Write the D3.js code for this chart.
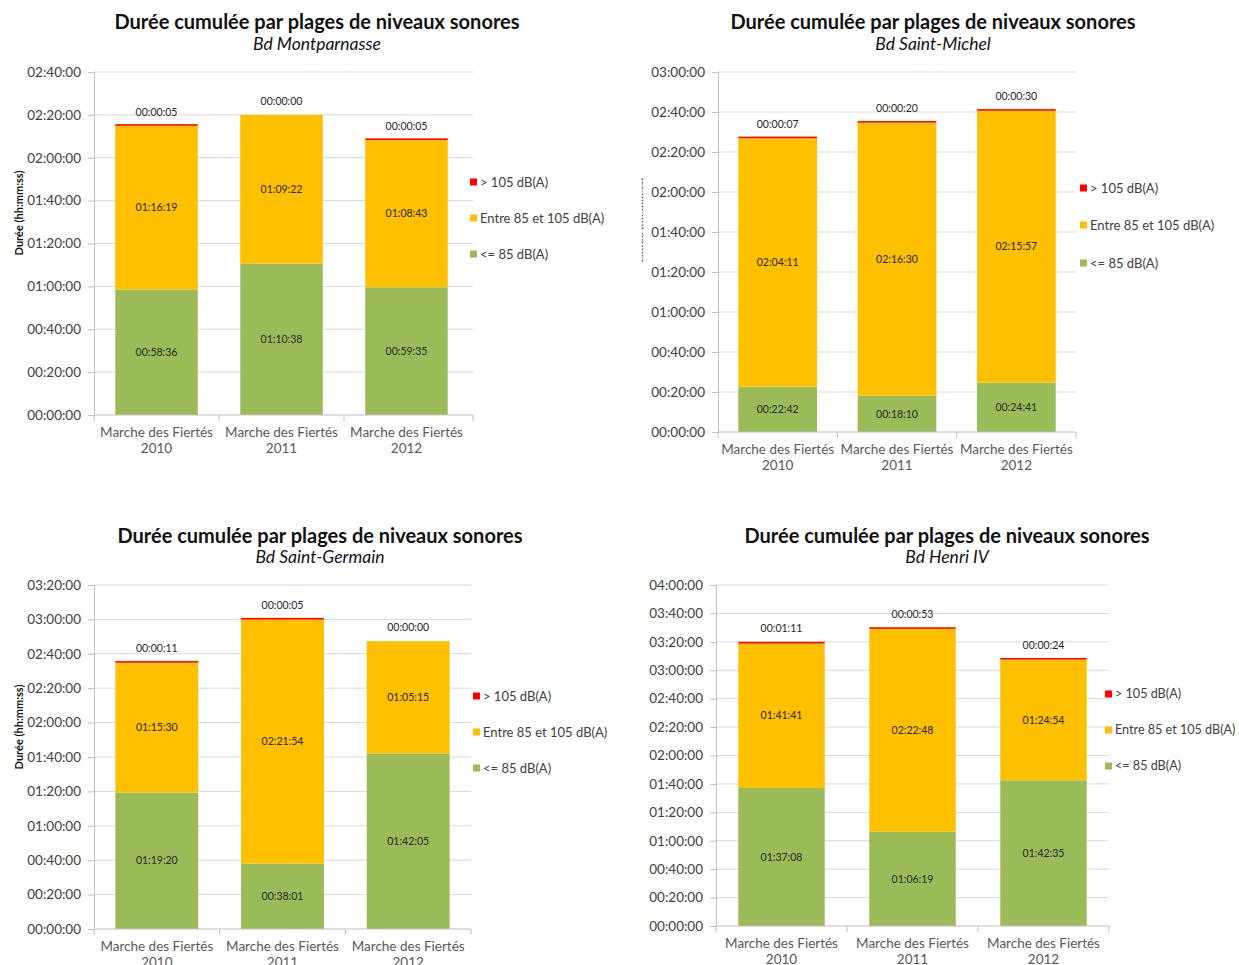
<!DOCTYPE html>
<html>
<head>
<meta charset="utf-8">
<script src="https://cdn.jsdelivr.net/npm/d3@7"></script>
<style>
  html, body { margin: 0; padding: 0; background: #ffffff; }
  svg { display: block; }
  text { font-family: "Lato", "Open Sans", sans-serif; }
</style>
</head>
<body>
<svg id="chart" width="1239" height="965"></svg>
<script>
// ---------- DATA ----------
const categories = ["Marche des Fiertés 2010", "Marche des Fiertés 2011", "Marche des Fiertés 2012"];
const seriesNames = ["<= 85 dB(A)", "Entre 85 et 105 dB(A)", "> 105 dB(A)"];
const seriesColors = ["#9BBB59", "#FFC000", "#FF0000"];
const mainTitle = "Durée cumulée par plages de niveaux sonores";
const yAxisTitle = "Durée (hh:mm:ss)";

const panelNames = ["Bd Montparnasse", "Bd Saint-Michel", "Bd Saint-Germain", "Bd Henri IV"];

// values as hh:mm:ss strings, one array per series per panel
const montparnasseLow  = ["00:58:36", "01:10:38", "00:59:35"];
const montparnasseMid  = ["01:16:19", "01:09:22", "01:08:43"];
const montparnasseHigh = ["00:00:05", "00:00:00", "00:00:05"];

const saintMichelLow  = ["00:22:42", "00:18:10", "00:24:41"];
const saintMichelMid  = ["02:04:11", "02:16:30", "02:15:57"];
const saintMichelHigh = ["00:00:07", "00:00:20", "00:00:30"];

const saintGermainLow  = ["01:19:20", "00:38:01", "01:42:05"];
const saintGermainMid  = ["01:15:30", "02:21:54", "01:05:15"];
const saintGermainHigh = ["00:00:11", "00:00:05", "00:00:00"];

const henriLow  = ["01:37:08", "01:06:19", "01:42:35"];
const henriMid  = ["01:41:41", "02:22:48", "01:24:54"];
const henriHigh = ["00:01:11", "00:00:53", "00:00:24"];

// y axis maxima (hh:mm:ss) and tick step
const yMaxLabels = ["02:40:00", "03:00:00", "03:20:00", "04:00:00"];
const yTickStep = "00:20:00";

// ---------- HELPERS ----------
const toSec = s => { const [h, m, x] = s.split(":").map(Number); return h * 3600 + m * 60 + x; };
const pad = n => String(n).padStart(2, "0");
const fmt = sec => pad(Math.floor(sec / 3600)) + ":" + pad(Math.floor((sec % 3600) / 60)) + ":" + pad(sec % 60);

const panelData = [
  [montparnasseLow, montparnasseMid, montparnasseHigh],
  [saintMichelLow, saintMichelMid, saintMichelHigh],
  [saintGermainLow, saintGermainMid, saintGermainHigh],
  [henriLow, henriMid, henriHigh]
];

// layout (positions/sizes only)
const layouts = [
  { x0: 94,  x1: 473,  bandEnd: 469,  yTop: 72,  yBot: 415, titleX: 317, titleY: 29,  subY: 50,  legX: 470,  legFs: 13,   legY: [182, 218, 254], yTitle: { x: 19, y: 213, sx: 1 } },
  { x0: 718, x1: 1076, bandEnd: 1076, yTop: 72,  yBot: 432, titleX: 933, titleY: 29,  subY: 50,  legX: 1080, legFs: 13,   legY: [188, 225, 263], yTitle: { x: 642, y: 220, sx: 0.18 } },
  { x0: 94,  x1: 471,  bandEnd: 471,  yTop: 585, yBot: 929, titleX: 320, titleY: 543, subY: 563, legX: 473,  legFs: 13,   legY: [696, 732, 768], yTitle: { x: 19, y: 727, sx: 1 } },
  { x0: 716, x1: 1109, bandEnd: 1109, yTop: 585, yBot: 926, titleX: 947, titleY: 543, subY: 563, legX: 1105, legFs: 12.6, legY: [694, 730, 766], yTitle: null }
];

const svg = d3.select("#chart");

panelData.forEach((series, pi) => {
  const L = layouts[pi];
  const g = svg.append("g");
  const low = series[0].map(toSec), mid = series[1].map(toSec), high = series[2].map(toSec);
  const rows = categories.map((c, i) => ({ cat: c, low: low[i], mid: mid[i], high: high[i] }));
  const stack = d3.stack().keys(["low", "mid", "high"])(rows);

  const yMax = toSec(yMaxLabels[pi]);
  const step = toSec(yTickStep);
  const y = d3.scaleLinear().domain([0, yMax]).range([L.yBot, L.yTop]);
  const x = d3.scaleBand().domain(categories).range([L.x0, L.bandEnd]).paddingInner(0.34).paddingOuter(0.17);

  // titles
  g.append("text").attr("x", L.titleX).attr("y", L.titleY).attr("text-anchor", "middle")
    .attr("font-size", 20).attr("font-weight", "bold").attr("fill", "#111").text(mainTitle);
  g.append("text").attr("x", L.titleX).attr("y", L.subY).attr("text-anchor", "middle")
    .attr("font-size", 17.5).attr("font-style", "italic").attr("fill", "#111").text(panelNames[pi]);

  // gridlines
  const ticks = d3.range(0, yMax + 1, step);
  g.append("g").selectAll("line").data(ticks.filter(t => t > 0)).join("line")
    .attr("x1", L.x0).attr("x2", L.x1).attr("y1", d => y(d)).attr("y2", d => y(d))
    .attr("stroke", "#D9D9D9").attr("stroke-width", 1);

  // y axis
  const yAxis = d3.axisLeft(y).tickValues(ticks).tickFormat(fmt).tickSize(6).tickPadding(7);
  const ya = g.append("g").attr("transform", `translate(${L.x0},0)`).call(yAxis);
  ya.select(".domain").attr("stroke", "#BFBFBF");
  ya.selectAll(".tick line").attr("stroke", "#BFBFBF");
  ya.selectAll(".tick text").attr("font-size", 13.5).attr("fill", "#404040")
    .attr("font-family", "Lato, 'Open Sans', sans-serif");

  // bars
  stack.forEach((layer, li) => {
    g.append("g").selectAll("rect").data(layer).join("rect")
      .attr("x", d => x(d.data.cat))
      .attr("width", x.bandwidth())
      .attr("y", d => {
        const h = y(d[0]) - y(d[1]);
        return (li === 2 && d[1] > d[0]) ? y(d[0]) - Math.max(h, 1.6) : y(d[1]);
      })
      .attr("height", d => {
        const h = y(d[0]) - y(d[1]);
        return (li === 2 && d[1] > d[0]) ? Math.max(h, 1.6) : h;
      })
      .attr("fill", seriesColors[li]);
  });

  // x axis
  g.append("line").attr("x1", L.x0).attr("x2", L.x1).attr("y1", L.yBot).attr("y2", L.yBot)
    .attr("stroke", "#BFBFBF");
  const bounds = [L.x0].concat(categories.slice(1).map(c => x(c) - x.step() * x.paddingInner() / 2)).concat([L.x1]);
  g.append("g").selectAll("line").data(bounds).join("line")
    .attr("x1", d => d).attr("x2", d => d).attr("y1", L.yBot).attr("y2", L.yBot + 6)
    .attr("stroke", "#BFBFBF");

  // category labels
  categories.forEach(c => {
    const parts = [c.slice(0, c.lastIndexOf(" ")), c.slice(c.lastIndexOf(" ") + 1)];
    const cx = x(c) + x.bandwidth() / 2;
    parts.forEach((p, k) => {
      g.append("text").attr("x", cx).attr("y", L.yBot + 22 + k * 16).attr("text-anchor", "middle")
        .attr("font-size", 13.5).attr("fill", "#595959").text(p);
    });
  });

  // value labels inside bars
  [0, 1].forEach(li => {
    g.append("g").selectAll("text").data(stack[li]).join("text")
      .attr("x", d => x(d.data.cat) + x.bandwidth() / 2)
      .attr("y", d => (y(d[0]) + y(d[1])) / 2)
      .attr("dy", "0.35em").attr("text-anchor", "middle")
      .attr("font-size", 10.5).attr("fill", "#262626")
      .text(d => fmt(d[1] - d[0]));
  });
  // top labels (> 105 dB)
  g.append("g").selectAll("text").data(stack[2]).join("text")
    .attr("x", d => x(d.data.cat) + x.bandwidth() / 2)
    .attr("y", d => y(d[1]) - 10)
    .attr("text-anchor", "middle")
    .attr("font-size", 10.5).attr("fill", "#262626")
    .text(d => fmt(d[1] - d[0]));

  // legend (top to bottom: > 105, Entre, <= 85)
  [2, 1, 0].forEach((si, k) => {
    g.append("rect").attr("x", L.legX).attr("y", L.legY[k] - 3.5).attr("width", 7).attr("height", 7)
      .attr("fill", seriesColors[si]);
    g.append("text").attr("x", L.legX + 10).attr("y", L.legY[k]).attr("dy", "0.35em")
      .attr("font-size", L.legFs).attr("fill", "#404040").text(seriesNames[si]);
  });

  // y axis title
  if (L.yTitle) {
    g.append("text")
      .attr("transform", `translate(${L.yTitle.x},${L.yTitle.y}) rotate(-90) scale(1,${L.yTitle.sx})`)
      .attr("text-anchor", "middle").attr("dy", "0.35em")
      .attr("font-size", 11).attr("font-weight", "bold").attr("fill", "#111").text(yAxisTitle);
  }
});
</script>
</body>
</html>
